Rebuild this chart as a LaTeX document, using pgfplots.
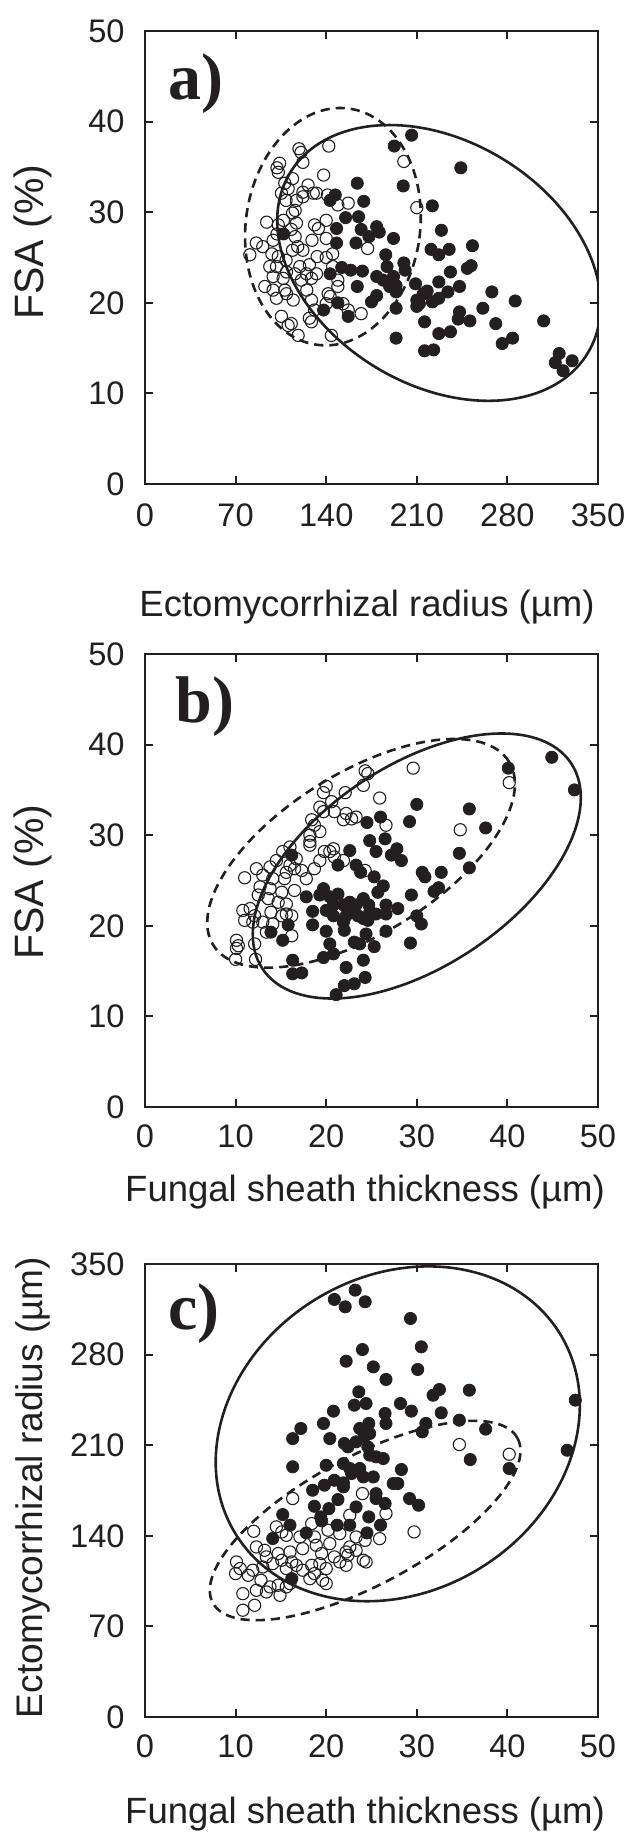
\documentclass[border=0pt]{standalone}
\usepackage{fontspec}
\setmainfont{Liberation Sans}
\newfontfamily\panelfont{Liberation Serif}
\usepackage{pgfplots}
\usepackage{pgfplotstable}
\pgfplotsset{compat=1.18}
\definecolor{ink}{RGB}{35,31,32}

% panel a: FSA vs ectomycorrhizal radius
\pgfplotstableread{
x y
142 37.3
119 37.0
120.5 36.6
200 35.6
104 35.4
102 34.9
122 35.5
103 34.4
138 34.1
114 33.7
108 33.2
110.6 32.6
126 33.0
122 32.2
130 32.1
132.5 32.1
105.4 32.1
109 31.3
117 31.3
122 31.7
141 31.9
149 30.8
157 31.0
210 30.5
116 30.2
114 29.9
107 29.1
94 28.9
103 28.6
117 28.8
113 28.1
131 28.6
134 28.2
140 29.1
102 27.6
116 27.3
86 26.6
99 26.9
91 26.2
129 26.9
140 27.1
118 26.2
122 25.8
114 25.8
81 25.3
98 25.4
103 25.1
133 25.1
140 25.0
145 25.4
172 26.0
109 24.7
96.4 24.0
101.6 24.0
119.6 24.0
127 24.2
109.3 23.4
115.8 23.2
124.8 23.2
132.5 23.2
145 24.0
99 22.9
106.7 22.7
120.9 22.5
128.6 22.7
149 22.5
92.6 21.8
99 21.4
108 21.4
101.6 20.5
114.5 20.3
109.3 21.0
128.6 20.3
141.5 21.0
143 20.7
140 19.9
125 21.4
149 21.8
157 19.2
167 18.8
128.6 17.9
127 18.3
105.4 18.5
110.6 17.5
113 17.7
118.3 16.4
144 16.4
131 19.2
153 19.9
}\aopen

\pgfplotstableread{
x y
206 38.5
192.6 37.3
244 34.9
164 33.2
199.5 32.9
222 30.7
147 31.9
143 31.3
169 31.2
155 29.4
165 29.5
148 28.2
107 27.6
179 28.4
181 27.8
167 28.1
173 27.3
192 27.1
229 28.0
148 26.6
163 26.6
221 25.9
227 25.3
235 25.9
253 26.3
186 25.3
187 24.0
200 24.4
201 23.6
249 23.8
252 24.1
236 23.4
143 23.2
152 23.9
159 23.6
168 23.5
179 22.9
184 22.5
192 22.9
194 21.9
194 21.2
189 21.8
209 22.1
215 21.0
210 20.3
218 21.3
222 20.1
227 22.3
227 20.5
234 21.2
243 21.8
179 20.8
175 20.1
164 21.8
149 20.0
138 19.2
194 19.4
157 18.5
210 19.6
212 19.9
268 21.2
286 20.2
261 19.4
243 19.0
242 18.2
251 18.0
216 17.9
271 17.7
308 18.0
236 16.8
227 16.6
284 16.1
276 15.5
194 16.1
216 14.7
223 14.8
320 14.4
317 13.4
330 13.6
323 12.5
}\afilled

% panel b: FSA vs fungal sheath thickness
\pgfplotstableread{
x y
29.6 37.4
24.3 37.1
24.6 36.8
24.1 35.5
40.2 35.8
20.0 35.4
19.7 34.7
22.1 34.7
25.9 34.1
20.6 33.7
19.3 33.1
19.7 32.6
20.9 32.6
22.2 32.4
22.8 31.8
21.9 31.7
23.3 32.0
18.4 31.7
18.7 31.1
26.6 31.1
34.8 30.6
19.3 30.4
18.2 30.0
18.2 29.3
20.8 28.5
19.8 28.2
18.2 28.9
16.0 28.7
15.2 28.2
16.7 27.4
16.0 26.7
16.5 26.3
17.3 26.1
18.7 26.3
19.3 27.2
20.4 28.2
20.9 27.6
21.9 27.2
24.3 26.1
14.5 27.2
13.8 26.5
12.3 26.3
11.0 25.3
13.0 25.6
14.1 25.2
15.4 25.2
17.8 25.2
12.7 24.3
13.8 24.1
15.1 23.7
16.5 23.9
12.5 23.4
13.6 23.0
14.7 22.6
15.6 22.4
10.8 21.7
12.1 21.1
13.9 21.5
15.1 21.1
15.6 21.3
16.2 21.1
11.0 20.6
11.9 20.4
13.0 20.4
14.1 20.2
13.4 19.3
16.2 18.9
10.1 18.4
10.1 17.5
10.3 17.8
10.0 16.3
12.1 18.0
12.2 16.3
15.6 25.9
11.6 21.9
}\bopen

\pgfplotstableread{
x y
44.9 38.6
40.1 37.4
47.4 35.0
30.0 33.4
35.8 32.9
26.0 32.0
24.5 31.4
29.2 31.5
37.6 30.8
24.8 29.4
26.5 29.6
22.6 28.3
25.5 28.2
27.8 28.5
27.2 27.8
28.3 27.2
34.7 28.0
16.2 27.8
21.3 26.7
23.3 26.7
23.8 25.9
30.6 25.9
30.9 25.4
32.7 25.9
35.8 26.4
25.3 25.4
26.3 24.4
25.7 23.7
19.7 24.1
19.3 23.4
17.8 23.2
20.4 23.2
21.3 23.5
22.6 22.6
21.9 22.3
20.8 22.3
20.0 21.7
23.3 22.3
24.1 23.0
24.7 22.3
24.8 21.5
22.6 21.7
22.2 21.1
23.5 21.1
24.1 20.8
24.6 20.6
25.5 21.3
26.6 22.3
27.9 21.9
26.6 21.3
18.5 21.6
20.8 21.1
21.9 20.4
22.0 19.5
18.5 20.1
20.0 19.4
29.4 23.4
31.9 23.8
32.4 24.2
30.5 20.2
30.0 21.1
26.6 19.4
24.4 19.1
15.8 20.1
13.9 19.3
15.2 18.4
23.1 18.2
23.7 18.0
20.4 18.0
25.3 17.7
29.3 18.1
20.8 16.9
19.7 16.5
24.1 16.2
16.3 16.2
16.3 14.7
17.3 14.8
22.2 15.4
24.3 14.3
23.1 13.6
22.0 13.4
21.1 12.4
}\bfilled

% panel c: ectomycorrhizal radius vs fungal sheath thickness
\pgfplotstableread{
x y
34.7 210.5
40.2 203.0
16.3 168.8
24.0 172.6
26.6 157.2
22.6 155.9
29.7 143.0
12.0 143.5
15.1 143.0
18.4 149.4
14.5 146.9
15.6 140.4
17.1 139.1
18.7 139.1
20.2 144.3
21.5 141.7
23.3 139.1
25.9 137.8
18.9 132.7
20.4 134.0
12.3 131.4
13.2 128.8
13.4 123.7
14.7 126.3
16.0 127.5
17.4 130.1
19.5 126.3
20.9 123.7
22.4 125.0
22.6 131.4
23.3 128.8
22.2 127.5
24.1 121.1
24.4 119.8
10.1 119.8
10.5 114.7
10.0 110.8
11.9 113.4
13.0 115.9
14.1 118.5
15.1 121.1
16.2 119.8
16.7 117.2
15.6 114.7
17.4 113.4
18.4 117.2
19.3 118.5
20.0 114.7
18.7 110.8
18.2 106.9
19.6 105.6
20.0 103.1
11.4 109.5
12.8 105.6
13.8 100.5
14.7 101.8
15.6 100.5
16.0 103.1
10.8 95.3
12.3 97.9
13.4 96.6
14.9 94.0
12.1 86.3
10.8 82.5
22.2 117.2
21.5 119.8
24.3 136.5
}\copen

\pgfplotstableread{
x y
23.2 329.8
20.9 322.6
24.3 320.8
22.1 316.9
29.3 307.9
30.5 286.0
24.0 283.9
22.2 274.9
25.2 270.5
30.1 268.5
26.6 260.8
47.5 244.8
35.8 252.5
32.5 253.0
31.8 248.6
23.6 251.2
24.4 242.2
23.1 240.9
28.2 242.2
29.4 236.3
32.7 235.0
20.8 236.3
26.5 234.5
26.6 226.8
34.7 229.3
37.6 222.4
31.0 226.8
30.6 220.3
19.7 226.8
17.2 222.9
16.3 215.1
20.4 215.1
23.7 222.9
24.7 226.8
24.8 219.0
24.2 216.4
23.3 212.6
22.0 211.3
22.4 208.7
24.6 208.7
25.5 201.0
26.3 199.7
24.8 202.3
46.6 206.1
35.9 198.9
40.2 192.0
20.0 194.5
21.9 195.8
22.6 192.0
23.7 192.0
22.8 188.1
24.1 185.5
25.2 185.5
16.3 193.3
28.3 191.2
27.4 180.4
27.9 180.4
21.9 180.9
20.9 182.9
19.8 179.1
21.9 177.8
18.5 175.2
25.5 172.6
25.5 168.8
26.5 164.9
29.2 168.8
30.2 163.6
21.3 168.0
18.7 162.8
20.3 161.0
23.3 162.3
19.4 154.6
19.5 151.5
15.2 156.4
16.0 148.2
24.7 154.6
21.2 148.2
22.6 148.2
26.0 148.2
17.8 142.2
24.5 142.2
14.1 137.9
16.2 106.9
}\cfilled

\pgfplotsset{
  panel/.style={
    scale only axis,
    width=226.5pt, height=226.5pt,
    anchor=south west,
    axis line style={line width=1.35pt, ink},
    tick style={line width=1pt, ink},
    major tick length=4pt,
    tick align=inside,
    /pgf/number format/assume math mode=true,
    ticklabel style={font=\fontsize{16.3}{16}\selectfont, text=ink},
    yticklabel style={inner sep=0pt, xshift=-10pt},
    xticklabel style={inner sep=0pt, yshift=-8.5pt},
  },
  openpts/.style={only marks, mark=o, mark size=3.05pt,
    mark options={line width=0.55pt, draw=ink}},
  fullpts/.style={only marks, mark=*, mark size=3.05pt,
    mark options={draw=ink, fill=ink}},
}
\tikzset{
  ell/.style={line width=1.3pt, ink},
  dashell/.style={line width=1.3pt, ink, dash pattern=on 4.6pt off 3pt},
}

\begin{document}
\begin{tikzpicture}
\useasboundingbox (0,0) rectangle (314.5pt,916.5pt);

% a)
\begin{axis}[panel, at={(72.5pt,674.5pt)},
  xmin=0, xmax=350, ymin=0, ymax=50,
  xtick={0,70,140,210,280,350}, ytick={0,10,20,30,40,50},
  xticklabel style={yshift=-1pt}]
\addplot[openpts] table {\aopen};
\addplot[fullpts] table {\afilled};
\draw[dashell, shift={(axis cs:145.2,28.4)}, rotate=-7.7] (0,0) ellipse [x radius=43.6pt, y radius=59.6pt];
\draw[ell, shift={(axis cs:227.1,24.4)}, rotate=-31.2] (0,0) ellipse [x radius=87pt, y radius=61pt];
\end{axis}

% b)
\begin{axis}[panel, at={(72.5pt,363pt)},
  xmin=0, xmax=50, ymin=0, ymax=50,
  xtick={0,10,...,50}, ytick={0,10,...,50}]
\addplot[openpts] table {\bopen};
\addplot[fullpts] table {\bfilled};
\draw[dashell, shift={(axis cs:23.85,28.0)}, rotate=31.8] (0,0) ellipse [x radius=87pt, y radius=40.2pt];
\draw[ell, shift={(axis cs:30.0,26.6)}, rotate=33.7] (0,0) ellipse [x radius=92.7pt, y radius=50.2pt];
\end{axis}

% c)
\begin{axis}[panel, at={(72.5pt,58pt)},
  xmin=0, xmax=50, ymin=0, ymax=350,
  xtick={0,10,...,50}, ytick={0,70,140,210,280,350}]
\addplot[openpts] table {\copen};
\addplot[fullpts] table {\cfilled};
\draw[dashell, shift={(axis cs:24.3,151.8)}, rotate=28.4] (0,0) ellipse [x radius=86.6pt, y radius=31.9pt];
\draw[ell, shift={(axis cs:27.9,218.8)}, rotate=31.8] (0,0) ellipse [x radius=95.3pt, y radius=78.8pt];
\end{axis}

% axis titles
\node[anchor=base, text=ink, font=\fontsize{18.25}{20}\selectfont] at (183.5pt,608pt) {Ectomycorrhizal radius (µm)};
\node[anchor=base, text=ink, font=\fontsize{18.25}{20}\selectfont] at (182.5pt,315.5pt) {Fungal sheath thickness (µm)};
\node[anchor=base, text=ink, font=\fontsize{18.25}{20}\selectfont] at (182.5pt,5pt) {Fungal sheath thickness (µm)};
\node[anchor=base, rotate=90, text=ink, font=\fontsize{20.5}{22}\selectfont] at (21.5pt,795.5pt) {FSA (\%)};
\node[anchor=base, rotate=90, text=ink, font=\fontsize{20.5}{22}\selectfont] at (21.5pt,475.5pt) {FSA (\%)};
\node[anchor=base, rotate=90, text=ink, font=\fontsize{18.5}{20}\selectfont] at (21pt,172.75pt) {Ectomycorrhizal radius (µm)};

% panel letters
\node[anchor=base west, inner sep=0pt, text=ink, font={\fontsize{33}{34}\selectfont\panelfont\bfseries}] at (84pt,866.5pt) {a)};
\node[anchor=base west, inner sep=0pt, text=ink, font={\fontsize{33}{34}\selectfont\panelfont\bfseries}] at (87.5pt,555pt) {b)};
\node[anchor=base west, inner sep=0pt, text=ink, font={\fontsize{33}{34}\selectfont\panelfont\bfseries}] at (84pt,251.5pt) {c)};
\end{tikzpicture}
\end{document}
